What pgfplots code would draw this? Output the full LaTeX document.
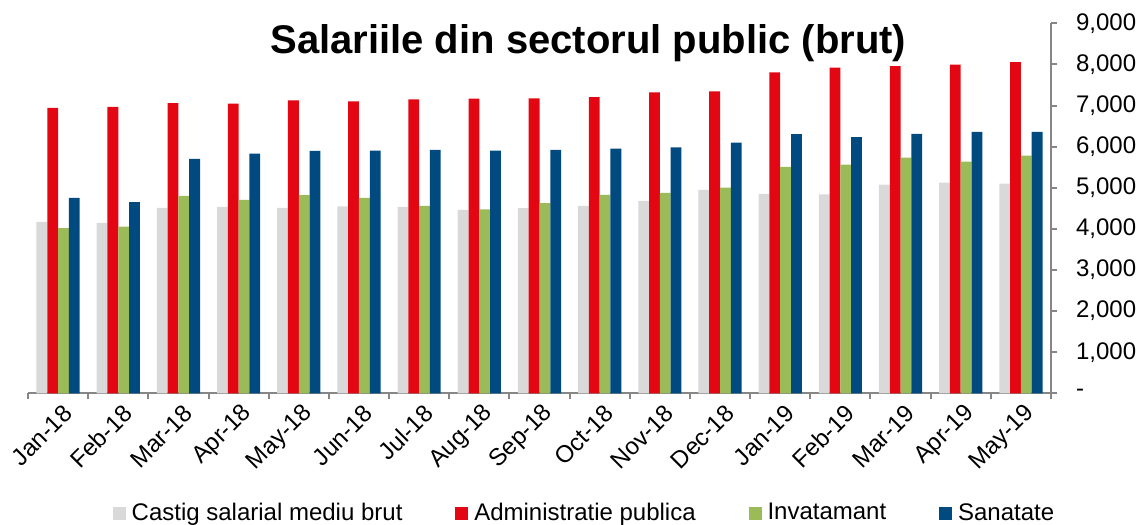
\documentclass[border=0pt]{standalone}
\usepackage{fontspec}
\setmainfont{Liberation Sans}
\usepackage{pgfplots}
\usepackage{pgfplotstable}
\pgfplotsset{compat=1.18}

\definecolor{cgray}{HTML}{D9D9D9}
\definecolor{cred}{HTML}{E30613}
\definecolor{cgreen}{HTML}{9BBB59}
\definecolor{cblue}{HTML}{004A7F}
\definecolor{axgray}{HTML}{868686}

% salarii brute lunare, lei
\pgfplotstableread{
x  medie  admin  invat  sanat
0  4170   6945   4015   4755
1  4145   6970   4055   4650
2  4510   7060   4805   5700
3  4535   7045   4707   5830
4  4510   7125   4820   5896
5  4545   7100   4755   5904
6  4535   7150   4560   5920
7  4463   7166   4471   5904
8  4503   7174   4625   5920
9  4560   7207   4829   5953
10 4682   7321   4878   5985
11 4951   7345   5000   6100
12 4853   7809   5505   6303
13 4837   7923   5562   6230
14 5073   7956   5733   6311
15 5122   7997   5635   6360
16 5098   8054   5782   6360
}\salarii

\begin{document}
\begin{tikzpicture}
\begin{axis}[
  at={(0pt,0pt)}, anchor=south west,
  scale only axis,
  width=511.5pt, height=185pt,
  xmin=-0.5, xmax=16.5,
  ymin=0, ymax=9000,
  clip=false,
  ybar=0pt, bar width=5.4pt,
  axis x line*=bottom, axis y line*=right,
  axis line style={-, draw=axgray, line width=1pt},
  tick align=outside,
  xtick={0,...,16},
  xticklabels={Jan-18,Feb-18,Mar-18,Apr-18,May-18,Jun-18,Jul-18,Aug-18,Sep-18,Oct-18,Nov-18,Dec-18,Jan-19,Feb-19,Mar-19,Apr-19,May-19},
  minor xtick={-0.5,0.5,...,16.5},
  major x tick style={draw=none},
  minor x tick style={draw=axgray, line width=1pt},
  minor tick length=3pt,
  major tick length=3pt,
  ytick={0,1000,...,9000},
  yticklabels={-,{1,000},{2,000},{3,000},{4,000},{5,000},{6,000},{7,000},{8,000},{9,000}},
  yticklabel pos=right,
  y tick style={draw=axgray, line width=1pt},
  xticklabel style={rotate=45, anchor=east, inner sep=0pt, yshift=-7pt, font=\fontsize{12}{14}\selectfont},
  yticklabel style={anchor=west, xshift=6pt, font=\fontsize{12}{14}\selectfont},
  legend columns=4,
  legend image code/.code={\fill[#1] (0pt,-3.2pt) rectangle (6.4pt,3.2pt);},
  legend style={at={(0.545,-0.324)}, anchor=center, draw=none, fill=none,
    font=\fontsize{12}{14}\selectfont, inner sep=0pt,
    /tikz/every odd column/.append style={column sep=1pt},
    /tikz/every even column/.append style={column sep=24.5pt}},
]
\addplot[fill=cgray, draw=none] table[x=x, y=medie] {\salarii};
\addlegendentry{Castig salarial mediu brut}
\addplot[fill=cred, draw=none] table[x=x, y=admin] {\salarii};
\addlegendentry{Administratie publica}
\addplot[fill=cgreen, draw=none] table[x=x, y=invat] {\salarii};
\addlegendentry{Invatamant}
\addplot[fill=cblue, draw=none] table[x=x, y=sanat] {\salarii};
\addlegendentry{Sanatate}

\node[font=\bfseries\fontsize{20}{24}\selectfont, anchor=base] at (axis cs:8.81,8270) {Salariile din sectorul public (brut)};
\end{axis}
\pgfresetboundingbox
\useasboundingbox (-14pt,-65.85pt) rectangle (557pt,196.65pt);
\end{tikzpicture}
\end{document}
